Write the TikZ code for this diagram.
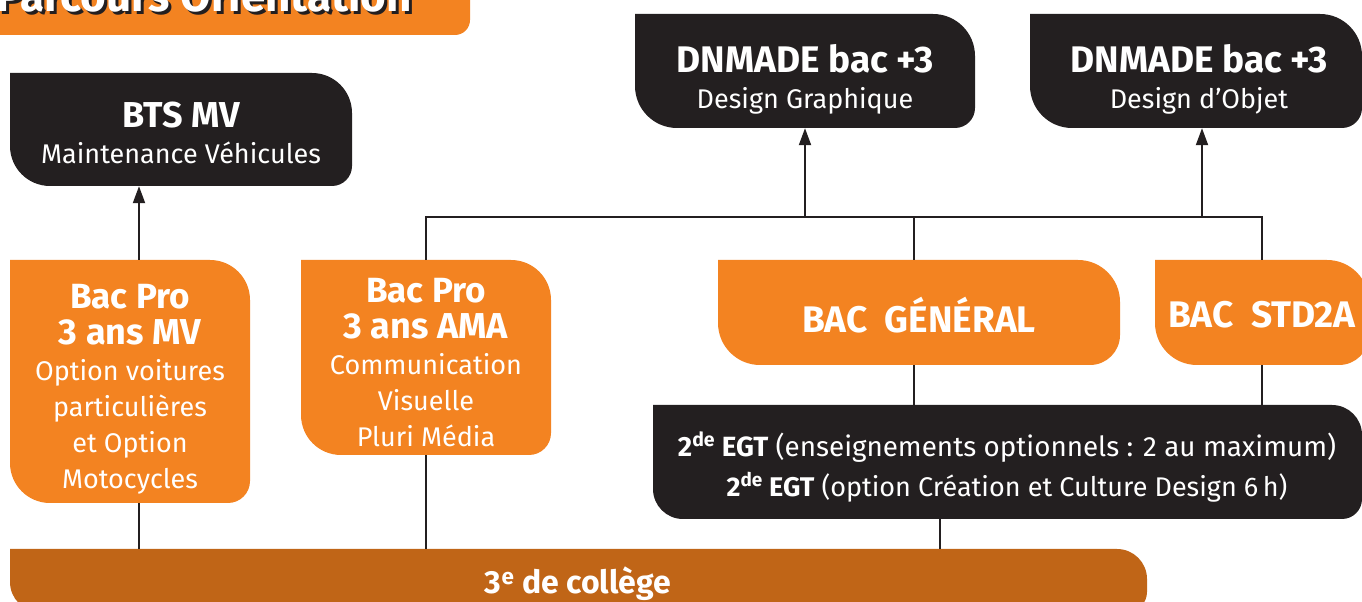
\documentclass[tikz,border=0pt]{standalone}
\usepackage{fontspec}
\setmainfont{Fira Sans}
\usetikzlibrary{arrows.meta}
\definecolor{orng}{RGB}{243,131,33}
\definecolor{drk}{RGB}{35,31,32}
\definecolor{brn}{RGB}{192,101,23}
% name, colour, x1, y1, x2, y2 (pixel coords, y down), big radius, small radius
\newcommand\leaf[8]{%
  \fill[#2] (#3,{602-#4}) -- ({#5-#7},{602-#4}) arc[start angle=90,end angle=0,radius=#7]
    -- (#5,{602-#6+#8}) arc[start angle=0,end angle=-90,radius=#8]
    -- ({#3+#7},{602-#6}) arc[start angle=270,end angle=180,radius=#7] -- cycle;
  \node[boxshape, minimum width={(#5-#3)*1pt}, minimum height={(#6-#4)*1pt}] (#1)
    at ({(#3+#5)/2},{602-(#4+#6)/2}) {};
}
\newcommand\bigb[2]{{\fontsize{#1}{38}\selectfont\bfseries #2}}
\begin{document}
\begin{tikzpicture}[x=1pt,y=1pt,
  boxshape/.style={inner sep=0pt, draw=none},
  boxtext/.style={inner sep=0pt, text=white, align=center, font=\fontsize{27}{36}\selectfont},
  conn/.style={draw=drk, line width=2pt},
  arr/.style={conn, -{Triangle[length=17pt,width=12pt]}},
  titletext/.style={font=\fontsize{44}{44}\selectfont\bfseries, anchor=base east, inner sep=0pt}]
\useasboundingbox (0,0) rectangle (1362,602);
% title banner
\fill[orng] (-80,650) -- (470,650) -- (470,{602-35+15}) arc[start angle=0,end angle=-90,radius=15] -- (-80,{602-35}) -- cycle;
\node[titletext, text=drk] (titleshadow) at (415,{602-15}) {Parcours Orientation};
\node[titletext, text=white] (title) at (412,{602-12}) {Parcours Orientation};
% boxes
\leaf{bts}{drk}{10}{73}{352}{186}{40}{20}
\leaf{dg}{drk}{635}{14}{975}{128}{42}{20}
\leaf{do}{drk}{1030}{14}{1362}{128}{42}{20}
\leaf{bpmv}{orng}{10}{260}{250}{503}{40}{22}
\leaf{bpama}{orng}{301}{260}{551}{455}{40}{22}
\leaf{bg}{orng}{718}{260}{1120}{365}{42}{30}
\leaf{std}{orng}{1155}{260}{1369}{365}{42}{30}
\leaf{egt}{drk}{653}{405}{1362}{519}{30}{20}
\leaf{bar}{brn}{10}{549}{1147}{612}{30}{20}
% texts
\node[boxtext] (btst) at (181,{602-133}) {\fontsize{28}{38}\selectfont\bigb{36}{BTS MV}\\Maintenance Véhicules};
\node[boxtext] (dgt) at (805,{602-79}) {\fontsize{28.4}{38}\selectfont\bigb{37}{DNMADE bac +3}\\Design Graphique};
\node[boxtext] (dot) at (1199,{602-79}) {\fontsize{28.4}{38}\selectfont\bigb{37}{DNMADE bac +3}\\Design d’Objet};
\node[boxtext] (bpmvt) at (130,{602-389}) {\fontsize{26.5}{35.8}\selectfont\bigb{35}{Bac Pro}\\\bigb{36}{3 ans MV}\\Option voitures\\particulières\\et Option\\Motocycles};
\node[boxtext] (bpamat) at (426,{602-363}) {\fontsize{26.5}{35.8}\selectfont\bigb{35}{Bac Pro}\\\bigb{36}{3 ans AMA}\\Communication\\Visuelle\\Pluri Média};
\node[boxtext] (bgt) at (919,{602-315}) {\bigb{37}{BAC\ \ GÉNÉRAL}};
\node[boxtext] (stdt) at (1262,{602-315}) {\bigb{37}{BAC\ \ STD2A}};
\node[boxtext] (egtt) at (1007,{602-467}) {\fontsize{27.8}{42}\selectfont\textbf{2\textsuperscript{de} EGT} (enseignements optionnels : 2 au maximum)\\[4pt]\textbf{2\textsuperscript{de} EGT} (option Création et Culture Design 6\,h)};
\node[boxtext] (bart) at (578,{602-584}) {\bigb{32}{3\textsuperscript{e} de collège}};
% connectors
\coordinate (xa) at (139,0);
\coordinate (xg) at (914,0);
\coordinate (xo) at (1202,0);
\coordinate (xe) at (940,0);
\coordinate (hy) at (0,{602-217});
\coordinate (j1) at (bpama.north |- hy);
\coordinate (j4) at (std.north |- hy);
\draw[arr] (bpmv.north -| xa) -- (bts.south -| xa);
\draw[conn] (bpmv.south -| xa) -- (bar.north -| xa);
\draw[conn] (bpama.north) -- (j1) -- (j4) -- (std.north);
\draw[conn] (bpama.south) -- (bpama.south |- bar.north);
\draw[arr] (dg.south |- hy) -- (dg.south);
\draw[arr] (xo |- hy) -- (xo |- do.south);
\draw[conn] (xg |- hy) -- (xg |- bg.north);
\draw[conn] (bg.south -| xg) -- (egt.north -| xg);
\draw[conn] (std.south) -- (std.south |- egt.north);
\draw[conn] (egt.south -| xe) -- (bar.north -| xe);
\end{tikzpicture}
\end{document}
